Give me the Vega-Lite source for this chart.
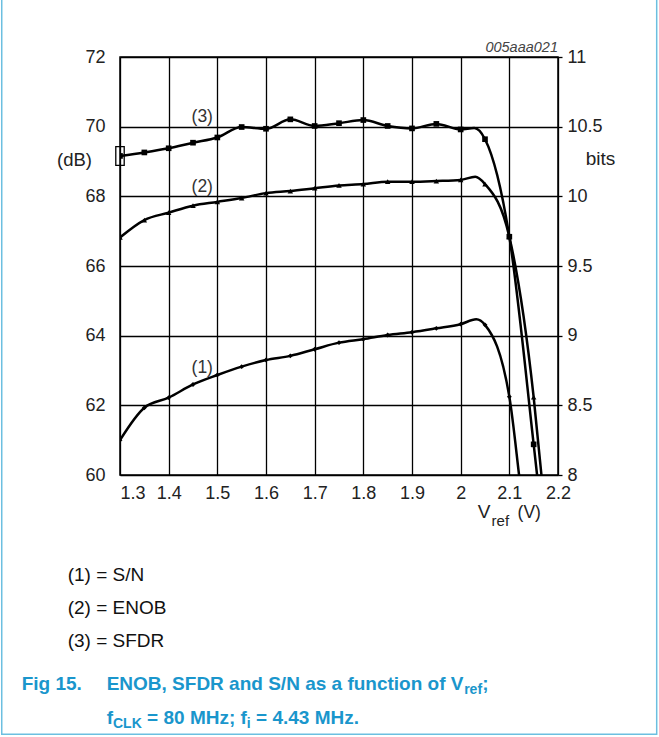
{
  "$schema": "https://vega.github.io/schema/vega-lite/v6.json",
  "width": 438,
  "height": 418,
  "autosize": "none",
  "padding": {"left": 120, "top": 57, "right": 101, "bottom": 262},
  "background": "white",
  "config": {"view": {"stroke": "black", "strokeWidth": 1.5}, "font": "Liberation Sans"},
  "datasets": {
    "db": [
      {"series": "SFDR", "v": 1.30, "value": 69.16, "kind": "measured"},
      {"series": "SFDR", "v": 1.35, "value": 69.26, "kind": "measured"},
      {"series": "SFDR", "v": 1.40, "value": 69.38, "kind": "measured"},
      {"series": "SFDR", "v": 1.45, "value": 69.54, "kind": "measured"},
      {"series": "SFDR", "v": 1.50, "value": 69.69, "kind": "measured"},
      {"series": "SFDR", "v": 1.55, "value": 69.99, "kind": "measured"},
      {"series": "SFDR", "v": 1.60, "value": 69.94, "kind": "measured"},
      {"series": "SFDR", "v": 1.65, "value": 70.21, "kind": "measured"},
      {"series": "SFDR", "v": 1.70, "value": 70.02, "kind": "measured"},
      {"series": "SFDR", "v": 1.75, "value": 70.10, "kind": "measured"},
      {"series": "SFDR", "v": 1.80, "value": 70.19, "kind": "measured"},
      {"series": "SFDR", "v": 1.85, "value": 70.02, "kind": "measured"},
      {"series": "SFDR", "v": 1.90, "value": 69.95, "kind": "measured"},
      {"series": "SFDR", "v": 1.95, "value": 70.08, "kind": "measured"},
      {"series": "SFDR", "v": 2.00, "value": 69.92, "kind": "measured"},
      {"series": "SFDR", "v": 2.028, "value": 69.96, "kind": "trace"},
      {"series": "SFDR", "v": 2.05, "value": 69.64, "kind": "measured"},
      {"series": "SFDR", "v": 2.10, "value": 66.84, "kind": "measured"},
      {"series": "SFDR", "v": 2.15, "value": 60.88, "kind": "measured"},
      {"series": "SFDR", "v": 2.157, "value": 60.0, "kind": "trace"},
      {"series": "SFDR", "v": 2.162, "value": 59.3, "kind": "trace"},
      {"series": "S/N", "v": 1.30, "value": 61.00, "kind": "measured"},
      {"series": "S/N", "v": 1.35, "value": 61.93, "kind": "measured"},
      {"series": "S/N", "v": 1.40, "value": 62.22, "kind": "measured"},
      {"series": "S/N", "v": 1.45, "value": 62.60, "kind": "measured"},
      {"series": "S/N", "v": 1.50, "value": 62.87, "kind": "measured"},
      {"series": "S/N", "v": 1.55, "value": 63.11, "kind": "measured"},
      {"series": "S/N", "v": 1.60, "value": 63.30, "kind": "measured"},
      {"series": "S/N", "v": 1.65, "value": 63.42, "kind": "measured"},
      {"series": "S/N", "v": 1.70, "value": 63.61, "kind": "measured"},
      {"series": "S/N", "v": 1.75, "value": 63.80, "kind": "measured"},
      {"series": "S/N", "v": 1.80, "value": 63.90, "kind": "measured"},
      {"series": "S/N", "v": 1.85, "value": 64.02, "kind": "measured"},
      {"series": "S/N", "v": 1.90, "value": 64.10, "kind": "measured"},
      {"series": "S/N", "v": 1.95, "value": 64.21, "kind": "measured"},
      {"series": "S/N", "v": 2.00, "value": 64.33, "kind": "measured"},
      {"series": "S/N", "v": 2.032, "value": 64.47, "kind": "trace"},
      {"series": "S/N", "v": 2.05, "value": 64.31, "kind": "measured"},
      {"series": "S/N", "v": 2.10, "value": 62.25, "kind": "measured"},
      {"series": "S/N", "v": 2.12, "value": 60.0, "kind": "trace"},
      {"series": "S/N", "v": 2.125, "value": 59.4, "kind": "trace"}
    ],
    "enob": [
      {"v": 1.30, "bits": 9.705, "kind": "measured"},
      {"v": 1.35, "bits": 9.83, "kind": "measured"},
      {"v": 1.40, "bits": 9.883, "kind": "measured"},
      {"v": 1.45, "bits": 9.933, "kind": "measured"},
      {"v": 1.50, "bits": 9.96, "kind": "measured"},
      {"v": 1.55, "bits": 9.988, "kind": "measured"},
      {"v": 1.60, "bits": 10.023, "kind": "measured"},
      {"v": 1.65, "bits": 10.038, "kind": "measured"},
      {"v": 1.70, "bits": 10.058, "kind": "measured"},
      {"v": 1.75, "bits": 10.078, "kind": "measured"},
      {"v": 1.80, "bits": 10.088, "kind": "measured"},
      {"v": 1.85, "bits": 10.105, "kind": "measured"},
      {"v": 1.90, "bits": 10.105, "kind": "measured"},
      {"v": 1.95, "bits": 10.11, "kind": "measured"},
      {"v": 2.00, "bits": 10.118, "kind": "measured"},
      {"v": 2.03, "bits": 10.14, "kind": "trace"},
      {"v": 2.05, "bits": 10.088, "kind": "measured"},
      {"v": 2.10, "bits": 9.71, "kind": "measured"},
      {"v": 2.15, "bits": 8.558, "kind": "measured"},
      {"v": 2.166, "bits": 8.0, "kind": "trace"},
      {"v": 2.17, "bits": 7.85, "kind": "trace"}
    ]
  },
  "layer": [
    {
      "layer": [
        {
          "data": {"name": "db"},
          "mark": {"type": "line", "interpolate": "monotone", "color": "black", "strokeWidth": 2.5, "clip": true},
          "encoding": {
            "x": {"field": "v", "type": "quantitative", "scale": {"domain": [1.3, 2.2], "nice": false, "zero": false},
              "axis": {"orient": "bottom", "values": [1.3, 1.4, 1.5, 1.6, 1.7, 1.8, 1.9, 2.0, 2.1, 2.2], "format": ".1~f", "grid": true, "gridColor": "black", "gridWidth": 1.3, "gridOpacity": 1, "domain": false, "ticks": false, "tickSize": 0, "labelPadding": 9, "labelFontSize": 18, "labelColor": "#222", "labelFlush": false, "labelAlign": {"condition": {"test": "datum.value < 1.31", "value": "left"}, "value": "center"}, "title": null}},
            "y": {"field": "value", "type": "quantitative", "scale": {"domain": [60, 72], "nice": false, "zero": false},
              "axis": {"orient": "left", "values": [60, 62, 64, 66, 68, 70, 72], "format": "d", "grid": true, "gridColor": "black", "gridWidth": 1.3, "gridOpacity": 1, "domain": false, "ticks": false, "tickSize": 0, "labelPadding": 15, "labelFontSize": 18, "labelColor": "#222", "title": "(dB)", "titleAngle": 0, "titleX": -46, "titleY": 102, "titleAlign": "center", "titleBaseline": "middle", "titleFontSize": 18.5, "titleFontWeight": "normal", "titleColor": "#222"}},
            "detail": {"field": "series"}
          }
        },
        {
          "data": {"name": "db"},
          "transform": [{"filter": "datum.series === 'SFDR' && datum.kind === 'measured'"}],
          "mark": {"type": "point", "shape": "square", "filled": true, "color": "black", "size": 32, "opacity": 1, "clip": true},
          "encoding": {"x": {"field": "v", "type": "quantitative"}, "y": {"field": "value", "type": "quantitative"}}
        },
        {
          "data": {"name": "db"},
          "transform": [{"filter": "datum.series === 'S/N' && datum.kind === 'measured'"}],
          "mark": {"type": "point", "shape": "diamond", "filled": true, "color": "black", "size": 24, "opacity": 1, "clip": true},
          "encoding": {"x": {"field": "v", "type": "quantitative"}, "y": {"field": "value", "type": "quantitative"}}
        },
        {
          "data": {"name": "db"},
          "transform": [{"filter": "datum.series === 'SFDR' && datum.v === 1.3"}],
          "mark": {"type": "point", "shape": "M-0.45,-1L0.45,-1L0.45,1L-0.45,1Z", "filled": false, "stroke": "black", "strokeWidth": 1.3, "opacity": 1, "size": 350},
          "encoding": {"x": {"field": "v", "type": "quantitative"}, "y": {"field": "value", "type": "quantitative"}}
        },
        {"data": {"values": [{}]}, "mark": {"type": "text", "fontSize": 14.5, "fontStyle": "italic", "color": "#444", "align": "right", "baseline": "middle"},
          "encoding": {"x": {"datum": 2.2, "type": "quantitative"}, "y": {"datum": 72.27, "type": "quantitative"}, "text": {"value": "005aaa021"}}},
        {"data": {"values": [{}]}, "mark": {"type": "text", "fontSize": 17.5, "color": "#333", "align": "center", "baseline": "middle"},
          "encoding": {"x": {"datum": 1.469, "type": "quantitative"}, "y": {"datum": 70.29, "type": "quantitative"}, "text": {"value": "(3)"}}},
        {"data": {"values": [{}]}, "mark": {"type": "text", "fontSize": 17.5, "color": "#333", "align": "center", "baseline": "middle"},
          "encoding": {"x": {"datum": 1.469, "type": "quantitative"}, "y": {"datum": 68.27, "type": "quantitative"}, "text": {"value": "(2)"}}},
        {"data": {"values": [{}]}, "mark": {"type": "text", "fontSize": 17.5, "color": "#333", "align": "center", "baseline": "middle"},
          "encoding": {"x": {"datum": 1.469, "type": "quantitative"}, "y": {"datum": 63.07, "type": "quantitative"}, "text": {"value": "(1)"}}},
        {"data": {"values": [{}]}, "mark": {"type": "text", "fontSize": 19, "color": "#222", "align": "left", "baseline": "middle"},
          "encoding": {"x": {"datum": 2.0353, "type": "quantitative"}, "y": {"datum": 58.94, "type": "quantitative"}, "text": {"value": "V"}}},
        {"data": {"values": [{}]}, "mark": {"type": "text", "fontSize": 15, "color": "#222", "align": "left", "baseline": "middle"},
          "encoding": {"x": {"datum": 2.0635, "type": "quantitative"}, "y": {"datum": 58.69, "type": "quantitative"}, "text": {"value": "ref"}}},
        {"data": {"values": [{}]}, "mark": {"type": "text", "fontSize": 17.5, "color": "#222", "align": "left", "baseline": "middle"},
          "encoding": {"x": {"datum": 2.117, "type": "quantitative"}, "y": {"datum": 58.91, "type": "quantitative"}, "text": {"value": "(V)"}}},
        {"data": {"values": [{}]}, "mark": {"type": "text", "fontSize": 19, "color": "#111", "align": "left", "baseline": "middle"},
          "encoding": {"x": {"datum": 1.1925, "type": "quantitative"}, "y": {"datum": 57.13, "type": "quantitative"}, "text": {"value": "(1) = S/N"}}},
        {"data": {"values": [{}]}, "mark": {"type": "text", "fontSize": 19, "color": "#111", "align": "left", "baseline": "middle"},
          "encoding": {"x": {"datum": 1.1925, "type": "quantitative"}, "y": {"datum": 56.18, "type": "quantitative"}, "text": {"value": "(2) = ENOB"}}},
        {"data": {"values": [{}]}, "mark": {"type": "text", "fontSize": 19, "color": "#111", "align": "left", "baseline": "middle"},
          "encoding": {"x": {"datum": 1.1925, "type": "quantitative"}, "y": {"datum": 55.23, "type": "quantitative"}, "text": {"value": "(3) = SFDR"}}},
        {"data": {"values": [{}]}, "mark": {"type": "text", "fontSize": 19, "fontWeight": "bold", "color": "#1a96cc", "align": "left", "baseline": "middle"},
          "encoding": {"x": {"datum": 1.098, "type": "quantitative"}, "y": {"datum": 54.0, "type": "quantitative"}, "text": {"value": "Fig 15."}}},
        {"data": {"values": [{}]}, "mark": {"type": "text", "fontSize": 19, "fontWeight": "bold", "color": "#1a96cc", "align": "left", "baseline": "middle"},
          "encoding": {"x": {"datum": 1.2726, "type": "quantitative"}, "y": {"datum": 54.0, "type": "quantitative"}, "text": {"value": "ENOB, SFDR and S/N as a function of V"}}},
        {"data": {"values": [{}]}, "mark": {"type": "text", "fontSize": 14, "fontWeight": "bold", "color": "#1a96cc", "align": "left", "baseline": "middle"},
          "encoding": {"x": {"datum": 2.0072, "type": "quantitative"}, "y": {"datum": 53.83, "type": "quantitative"}, "text": {"value": "ref"}}},
        {"data": {"values": [{}]}, "mark": {"type": "text", "fontSize": 19, "fontWeight": "bold", "color": "#1a96cc", "align": "left", "baseline": "middle"},
          "encoding": {"x": {"datum": 2.0442, "type": "quantitative"}, "y": {"datum": 54.0, "type": "quantitative"}, "text": {"value": ";"}}},
        {"data": {"values": [{}]}, "mark": {"type": "text", "fontSize": 19, "fontWeight": "bold", "color": "#1a96cc", "align": "left", "baseline": "middle"},
          "encoding": {"x": {"datum": 1.2726, "type": "quantitative"}, "y": {"datum": 53.03, "type": "quantitative"}, "text": {"value": "f"}}},
        {"data": {"values": [{}]}, "mark": {"type": "text", "fontSize": 14, "fontWeight": "bold", "color": "#1a96cc", "align": "left", "baseline": "middle"},
          "encoding": {"x": {"datum": 1.2856, "type": "quantitative"}, "y": {"datum": 52.86, "type": "quantitative"}, "text": {"value": "CLK"}}},
        {"data": {"values": [{}]}, "mark": {"type": "text", "fontSize": 19, "fontWeight": "bold", "color": "#1a96cc", "align": "left", "baseline": "middle"},
          "encoding": {"x": {"datum": 1.3557, "type": "quantitative"}, "y": {"datum": 53.03, "type": "quantitative"}, "text": {"value": "= 80 MHz; f"}}},
        {"data": {"values": [{}]}, "mark": {"type": "text", "fontSize": 14, "fontWeight": "bold", "color": "#1a96cc", "align": "left", "baseline": "middle"},
          "encoding": {"x": {"datum": 1.5607, "type": "quantitative"}, "y": {"datum": 52.86, "type": "quantitative"}, "text": {"value": "i"}}},
        {"data": {"values": [{}]}, "mark": {"type": "text", "fontSize": 19, "fontWeight": "bold", "color": "#1a96cc", "align": "left", "baseline": "middle"},
          "encoding": {"x": {"datum": 1.5796, "type": "quantitative"}, "y": {"datum": 53.03, "type": "quantitative"}, "text": {"value": "= 4.43 MHz."}}},
        {"data": {"values": [{}]}, "mark": {"type": "rect", "fill": null, "filled": false, "stroke": "#6cbfe0", "strokeWidth": 1.5},
          "encoding": {"x": {"datum": 1.057, "type": "quantitative"}, "x2": {"datum": 2.4028}, "y": {"datum": 73.70, "type": "quantitative"}, "y2": {"datum": 52.56}}}
      ]
    },
    {
      "layer": [
        {
          "data": {"name": "enob"},
          "mark": {"type": "line", "interpolate": "monotone", "color": "black", "strokeWidth": 2.5, "clip": true},
          "encoding": {
            "x": {"field": "v", "type": "quantitative"},
            "y": {"field": "bits", "type": "quantitative", "scale": {"domain": [8, 11], "nice": false, "zero": false},
              "axis": {"orient": "right", "values": [8, 8.5, 9, 9.5, 10, 10.5, 11], "format": ".1~f", "grid": false, "domain": false, "ticks": true, "tickSize": 4, "tickColor": "black", "tickWidth": 1.3, "labelPadding": 5, "labelFontSize": 18, "labelColor": "#222", "title": "bits", "titleAngle": 0, "titleX": 42, "titleY": 101, "titleAlign": "center", "titleBaseline": "middle", "titleFontSize": 19, "titleFontWeight": "normal", "titleColor": "#222"}}
          }
        },
        {
          "data": {"name": "enob"},
          "transform": [{"filter": "datum.kind === 'measured'"}],
          "mark": {"type": "point", "shape": "triangle-up", "filled": true, "color": "black", "size": 30, "opacity": 1, "clip": true},
          "encoding": {"x": {"field": "v", "type": "quantitative"}, "y": {"field": "bits", "type": "quantitative"}}
        }
      ]
    }
  ],
  "resolve": {"scale": {"y": "independent"}}
}
